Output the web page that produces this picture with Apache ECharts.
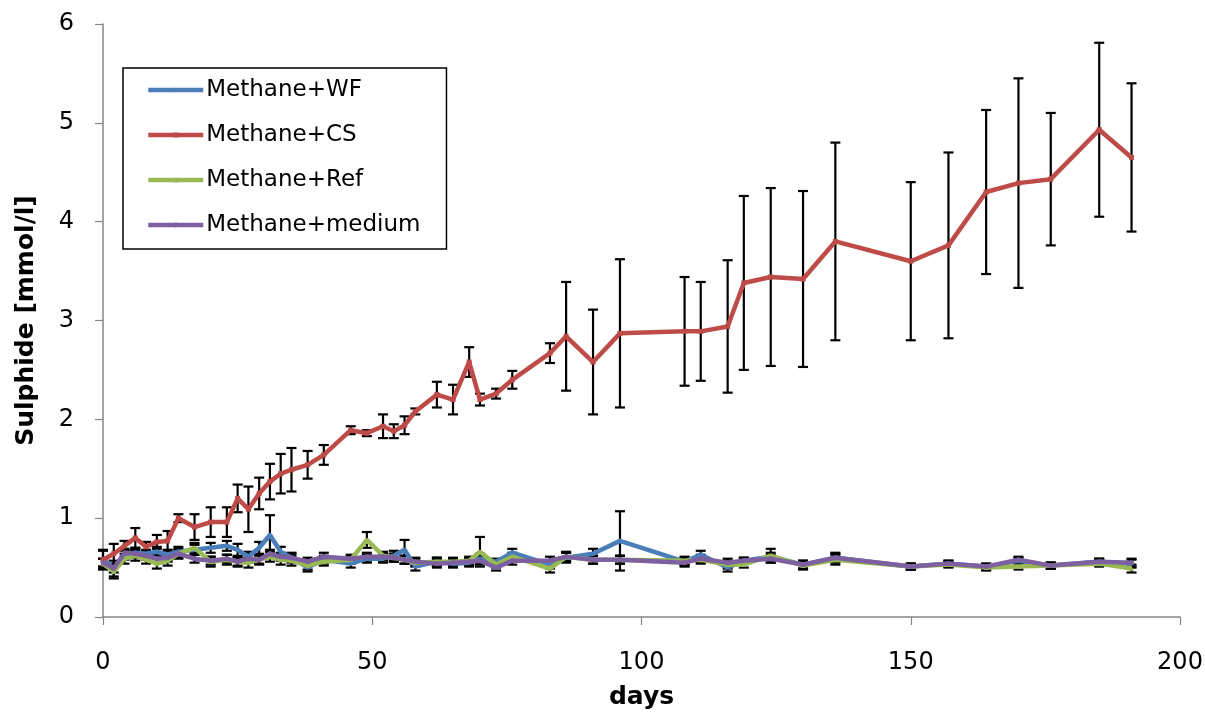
<!DOCTYPE html>
<html>
<head>
<meta charset="utf-8">
<script src="https://cdn.jsdelivr.net/npm/echarts@6/dist/echarts.min.js"></script>
<style>html,body{margin:0;padding:0;background:#fff}#chart{width:1205px;height:712px}</style>
</head>
<body>
<div id="chart"></div>
<script>
const days = [0, 2, 4, 6, 8, 10, 12, 14, 17, 20, 23, 25, 27, 29, 31, 33, 35, 38, 41, 46, 49, 52, 54, 56, 58, 62, 65, 68, 70, 73, 76, 83, 86, 91, 96, 108, 111, 116, 119, 124, 130, 136, 150, 157, 164, 170, 176, 185, 191];

const wf = [0.59, 0.49, 0.63, 0.65, 0.64, 0.66, 0.63, 0.66, 0.68, 0.70, 0.72, 0.68, 0.61, 0.70, 0.83, 0.66, 0.60, 0.50, 0.58, 0.54, 0.59, 0.59, 0.62, 0.68, 0.51, 0.56, 0.54, 0.55, 0.59, 0.56, 0.65, 0.53, 0.60, 0.64, 0.77, 0.56, 0.63, 0.50, 0.57, 0.61, 0.53, 0.60, 0.51, 0.54, 0.51, 0.57, 0.52, 0.56, 0.54];
const wfErr = [0.08, 0.08, 0.05, 0.05, 0.04, 0.05, 0.05, 0.05, 0.05, 0.05, 0.05, 0.06, 0.05, 0.06, 0.20, 0.05, 0.05, 0.04, 0.04, 0.04, 0.04, 0.04, 0.05, 0.10, 0.04, 0.04, 0.04, 0.04, 0.05, 0.03, 0.04, 0.04, 0.05, 0.05, 0.30, 0.04, 0.04, 0.04, 0.03, 0.04, 0.04, 0.05, 0.03, 0.03, 0.03, 0.03, 0.03, 0.03, 0.04];

const cs = [0.58, 0.64, 0.72, 0.80, 0.71, 0.76, 0.77, 1.00, 0.91, 0.96, 0.96, 1.20, 1.09, 1.25, 1.37, 1.45, 1.49, 1.54, 1.64, 1.89, 1.86, 1.93, 1.88, 1.94, 2.08, 2.25, 2.20, 2.58, 2.20, 2.26, 2.40, 2.67, 2.84, 2.58, 2.87, 2.89, 2.89, 2.94, 3.38, 3.44, 3.42, 3.80, 3.60, 3.76, 4.30, 4.39, 4.43, 4.93, 4.65];
const csErr = [0.10, 0.10, 0.05, 0.10, 0.05, 0.07, 0.10, 0.04, 0.13, 0.15, 0.15, 0.14, 0.23, 0.16, 0.18, 0.20, 0.22, 0.14, 0.10, 0.04, 0.03, 0.12, 0.07, 0.09, 0.03, 0.13, 0.15, 0.15, 0.06, 0.05, 0.09, 0.10, 0.55, 0.53, 0.75, 0.55, 0.50, 0.67, 0.88, 0.90, 0.89, 1.00, 0.80, 0.94, 0.83, 1.06, 0.67, 0.88, 0.75];

const ref = [0.54, 0.46, 0.59, 0.62, 0.58, 0.54, 0.57, 0.64, 0.70, 0.56, 0.58, 0.56, 0.55, 0.58, 0.61, 0.58, 0.57, 0.52, 0.56, 0.58, 0.78, 0.62, 0.60, 0.58, 0.55, 0.56, 0.56, 0.57, 0.66, 0.53, 0.61, 0.49, 0.61, 0.58, 0.58, 0.57, 0.58, 0.53, 0.53, 0.62, 0.52, 0.58, 0.51, 0.53, 0.50, 0.51, 0.52, 0.54, 0.49];
const refErr = [0.05, 0.07, 0.05, 0.05, 0.04, 0.05, 0.05, 0.05, 0.05, 0.05, 0.05, 0.05, 0.05, 0.05, 0.05, 0.05, 0.05, 0.04, 0.04, 0.04, 0.08, 0.04, 0.04, 0.04, 0.04, 0.04, 0.04, 0.04, 0.15, 0.03, 0.04, 0.04, 0.05, 0.04, 0.04, 0.04, 0.04, 0.04, 0.03, 0.07, 0.04, 0.05, 0.03, 0.03, 0.03, 0.03, 0.03, 0.03, 0.04];

const medium = [0.55, 0.49, 0.65, 0.64, 0.62, 0.59, 0.60, 0.64, 0.59, 0.57, 0.59, 0.56, 0.59, 0.58, 0.64, 0.61, 0.60, 0.56, 0.61, 0.59, 0.61, 0.61, 0.60, 0.58, 0.56, 0.54, 0.55, 0.56, 0.57, 0.50, 0.57, 0.57, 0.61, 0.58, 0.58, 0.55, 0.59, 0.55, 0.57, 0.59, 0.53, 0.60, 0.51, 0.54, 0.51, 0.58, 0.52, 0.56, 0.55];
const mediumErr = [0.04, 0.04, 0.04, 0.04, 0.04, 0.04, 0.04, 0.04, 0.04, 0.04, 0.04, 0.04, 0.04, 0.04, 0.04, 0.04, 0.04, 0.04, 0.04, 0.04, 0.04, 0.04, 0.04, 0.04, 0.04, 0.04, 0.04, 0.04, 0.04, 0.03, 0.04, 0.04, 0.04, 0.04, 0.04, 0.04, 0.04, 0.04, 0.03, 0.04, 0.04, 0.04, 0.03, 0.03, 0.03, 0.03, 0.03, 0.03, 0.04];

const seriesNames = ['Methane+WF', 'Methane+CS', 'Methane+Ref', 'Methane+medium'];
const colors = ['#4A7EBB', '#BE4B48', '#98B954', '#7D60A0'];
const symbols = ['diamond', 'rect', 'triangle', 'circle'];
const xTicks = [0, 50, 100, 150, 200];
const yTicks = [0, 1, 2, 3, 4, 5, 6];

const values = [wf, cs, ref, medium];
const errs = [wfErr, csErr, refErr, mediumErr];
const FONT = 'DejaVu Sans';

function errRender(params, api) {
  const x = api.value(0), y = api.value(1), e = api.value(2);
  const t = api.coord([x, y + e]);
  const b = api.coord([x, y - e]);
  const hw = 5;
  const st = { stroke: '#000', lineWidth: 2.2 };
  return {
    type: 'group',
    children: [
      { type: 'line', shape: { x1: t[0], y1: t[1], x2: b[0], y2: b[1] }, style: st },
      { type: 'line', shape: { x1: t[0] - hw, y1: t[1], x2: t[0] + hw, y2: t[1] }, style: st },
      { type: 'line', shape: { x1: b[0] - hw, y1: b[1], x2: b[0] + hw, y2: b[1] }, style: st }
    ]
  };
}

const series = [];
values.forEach((v, i) => {
  series.push({
    type: 'custom',
    name: seriesNames[i] + ' err',
    renderItem: errRender,
    data: days.map((d, k) => [d, v[k], errs[i][k]]),
    z: 1,
    silent: true
  });
});
values.forEach((v, i) => {
  series.push({
    type: 'line',
    name: seriesNames[i],
    data: days.map((d, k) => [d, v[k]]),
    color: colors[i],
    lineStyle: { width: 4.5, color: colors[i] },
    itemStyle: { color: colors[i] },
    symbol: symbols[i],
    symbolSize: 5,
    showSymbol: true,
    z: 3 + i,
    animation: false
  });
});

const chart = echarts.init(document.getElementById('chart'), null, { renderer: 'canvas' });
chart.setOption({
  animation: false,
  backgroundColor: '#fff',
  grid: { left: 103, right: 25, top: 24, bottom: 95, containLabel: false, outerBoundsMode: 'none' },
  legend: {
    data: seriesNames,
    orient: 'vertical',
    left: 123,
    top: 68,
    itemWidth: 55,
    itemHeight: 6,
    itemGap: 21,
    padding: [10, 26, 12, 23],
    borderColor: '#000',
    borderWidth: 1.5,
    backgroundColor: '#fff',
    lineStyle: { width: 4.5 },
    textStyle: { fontFamily: FONT, fontSize: 23, color: '#000', lineHeight: 24, padding: [0, 0, 0, -2] }
  },
  xAxis: {
    type: 'value',
    min: xTicks[0],
    max: xTicks[xTicks.length - 1],
    interval: 50,
    name: 'days',
    nameLocation: 'middle',
    nameGap: 68,
    nameTextStyle: { fontFamily: FONT, fontSize: 25, fontWeight: 'bold', color: '#000' },
    axisLine: { lineStyle: { color: '#868686', width: 1.5 } },
    axisTick: { show: true, inside: false, length: 8, lineStyle: { color: '#868686', width: 1.2 } },
    axisLabel: { fontFamily: FONT, fontSize: 24, color: '#000', margin: 34 },
    splitLine: { show: false }
  },
  yAxis: {
    type: 'value',
    min: yTicks[0],
    max: yTicks[yTicks.length - 1],
    interval: 1,
    name: 'Sulphide [mmol/l]',
    nameLocation: 'middle',
    nameGap: 64,
    nameTextStyle: { fontFamily: FONT, fontSize: 25, fontWeight: 'bold', color: '#000' },
    axisLine: { show: true, lineStyle: { color: '#868686', width: 1.5 } },
    axisTick: { show: true, inside: false, length: 8, lineStyle: { color: '#868686', width: 1.2 } },
    axisLabel: { fontFamily: FONT, fontSize: 24, color: '#000', margin: 29 },
    splitLine: { show: false }
  },
  series: series
});
</script>
</body>
</html>
